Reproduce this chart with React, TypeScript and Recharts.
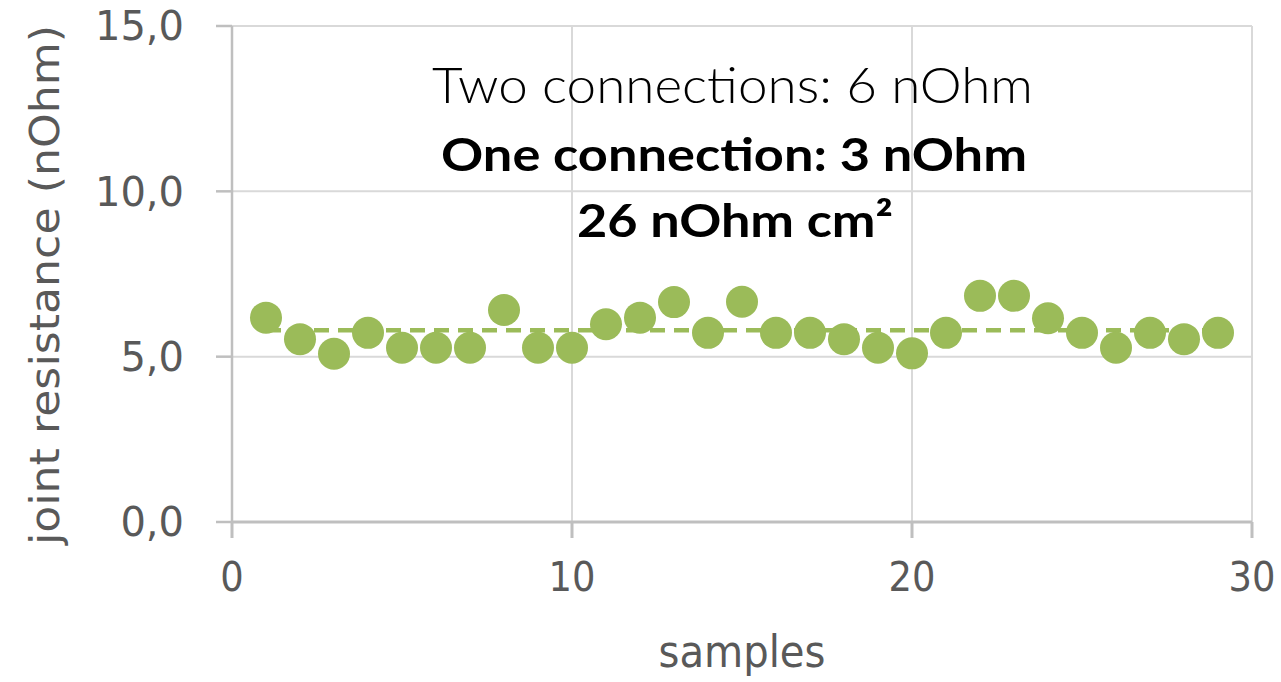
import { ComposedChart, Scatter, Line, XAxis, YAxis, CartesianGrid, Label } from "recharts";

const samples = [1, 2, 3, 4, 5, 6, 7, 8, 9, 10, 11, 12, 13, 14, 15, 16, 17, 18, 19, 20, 21, 22, 23, 24, 25, 26, 27, 28, 29];
const resistance = [
  6.18, 5.53, 5.09, 5.72, 5.27, 5.27, 5.27, 6.41, 5.27, 5.27, 5.98, 6.18, 6.65, 5.72, 6.66,
  5.72, 5.72, 5.53, 5.27, 5.1, 5.72, 6.84, 6.84, 6.16, 5.72, 5.27, 5.72, 5.53, 5.72,
];
const meanX = [1, 29];
const meanValue = 5.8;
const xTicks = [0, 10, 20, 30];
const yTicks = [0, 5, 10, 15];
const notes = ["Two connections: 6 nOhm", "One connection: 3 nOhm", "26 nOhm cm²"];

const GREEN = "#9bbb59";
const points = samples.map((s, i) => ({ x: s, y: resistance[i] }));
const meanLine = meanX.map((x) => ({ x, y: meanValue }));

const Dot = (props: any) => <circle cx={props.cx} cy={props.cy} r={16} fill={GREEN} />;

export default function App() {
  return (
    <div style={{ position: "relative", width: 1281, height: 682, background: "#fff" }}>
      <style>{`body{margin:0}`}</style>
      <ComposedChart width={1281} height={682} margin={{ top: 26, right: 29, bottom: 0, left: 0 }}>
        <CartesianGrid stroke="#d9d9d9" strokeWidth={2} />
        <XAxis
          type="number"
          dataKey="x"
          domain={[0, 30]}
          ticks={xTicks}
          height={160}
          stroke="#bfbfbf"
          strokeWidth={3}
          tickSize={16}
          tickMargin={24}
          tick={{ fill: "#595959", fontSize: 41, fontFamily: "DejaVu Sans Condensed, DejaVu Sans" }}
        >
          <Label
            content={() => (
              <text
                x={742}
                y={667}
                textAnchor="middle"
                fill="#595959"
                fontSize={44}
                fontFamily="DejaVu Sans Condensed, DejaVu Sans"
                textLength={167}
                lengthAdjust="spacingAndGlyphs"
              >
                samples
              </text>
            )}
          />
        </XAxis>
        <YAxis
          type="number"
          dataKey="y"
          domain={[0, 15]}
          ticks={yTicks}
          width={232}
          stroke="#bfbfbf"
          strokeWidth={2.5}
          tickSize={16}
          tickMargin={32}
          tickFormatter={(v: number) => v.toFixed(1).replace(".", ",")}
          tick={{ fill: "#595959", fontSize: 40, fontFamily: "DejaVu Sans" }}
        >
          <Label
            content={() => (
              <text
                x={0}
                y={0}
                transform="translate(59,285) rotate(-90)"
                textAnchor="middle"
                fill="#595959"
                fontSize={40}
                fontFamily="DejaVu Sans"
                textLength={520}
                lengthAdjust="spacingAndGlyphs"
              >
                joint resistance (nOhm)
              </text>
            )}
          />
        </YAxis>
        <Line
          data={meanLine}
          dataKey="y"
          stroke={GREEN}
          strokeWidth={4.5}
          strokeDasharray="15 9"
          dot={false}
          isAnimationActive={false}
        />
        <Scatter data={points} dataKey="y" shape={Dot} isAnimationActive={false} />
      </ComposedChart>
      <svg
        width={1281}
        height={682}
        style={{ position: "absolute", left: 0, top: 0, pointerEvents: "none" }}
      >
        <text
          x={432}
          y={103}
          fontSize={49}
          fontFamily="Lato"
          fontWeight={300}
          fill="#000"
          textLength={601}
          lengthAdjust="spacingAndGlyphs"
        >
          {notes[0]}
        </text>
        <text
          x={441}
          y={171}
          fontSize={46}
          fontFamily="Lato"
          fontWeight={700}
          fill="#000"
          textLength={586}
          lengthAdjust="spacingAndGlyphs"
        >
          {notes[1]}
        </text>
        <text
          x={577}
          y={237}
          fontSize={46}
          fontFamily="Lato"
          fontWeight={700}
          fill="#000"
          textLength={316}
          lengthAdjust="spacingAndGlyphs"
        >
          {notes[2]}
        </text>
      </svg>
    </div>
  );
}
